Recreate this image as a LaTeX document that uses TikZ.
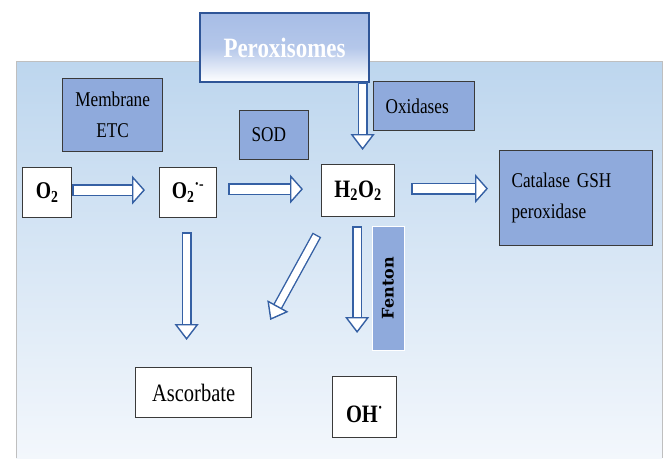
\documentclass[tikz,border=0pt]{standalone}
\usepackage{fontspec}
\setmainfont{Liberation Serif}[FakeStretch=0.82]
\newfontfamily\fentonfont{DejaVu Serif}
\usetikzlibrary{arrows.meta}
\definecolor{panelsky}{HTML}{BDD6EE}
\definecolor{panelmist}{HTML}{F3F7FC}
\definecolor{panelrim}{HTML}{BFBFBF}
\definecolor{peroxfill}{HTML}{A7BDE6}
\definecolor{peroxrim}{HTML}{2F5597}
\definecolor{enzymefill}{HTML}{8FAADC}
\definecolor{boxrim}{HTML}{3A3A3A}
\definecolor{arrowrim}{HTML}{3560A4}

\begin{document}
\begin{tikzpicture}[
  x=1pt,
  y=-1pt,
  species/.style={draw=boxrim, line width=1.2pt, fill=white, inner sep=0pt,
    anchor=north west},
  enzyme/.style={draw=boxrim, line width=1.2pt, fill=enzymefill, inner xsep=12pt,
    inner ysep=0pt, anchor=north west, align=left,
    font=\fontsize{21}{31}\selectfont},
  blockarrow/.style={draw=arrowrim, line width=1.4pt, double=white,
    double distance=9pt, line cap=rect,
    -{Triangle[length=13pt, width=29pt, fill=white, line width=1.4pt]}},
  droparrow/.style={blockarrow, double distance=7pt,
    -{Triangle[length=16pt, width=24pt, fill=white, line width=1.4pt]}}
]
  \useasboundingbox (0,0) rectangle (664,458);

  \shade[top color=panelsky, bottom color=panelmist] (16,61) rectangle (662,458);
  \draw[panelrim, line width=1pt] (16,458) |- (662,61) -- (662,458);

  \node[draw=peroxrim, line width=2pt, top color=peroxfill, bottom color=white,
    middle color=peroxfill!85!white, text=white, inner sep=0pt,
    minimum width=169pt, minimum height=69pt, anchor=north west,
    font=\fontsize{28}{34}\selectfont\bfseries]
    (perox) at (199,12) {Peroxisomes};

  \node[enzyme, align=center, text width=76pt, minimum height=73pt]
    (etc) at (62,78) {Membrane\\ETC};
  \node[enzyme, text width=45pt, minimum height=49pt]
    (sod) at (239,110) {SOD};
  \node[enzyme, text width=77pt, minimum height=49pt]
    (oxid) at (373,81) {Oxidases};
  \node[enzyme, text width=129pt, minimum height=95pt]
    (catal) at (499,150) {Catalase GSH\\peroxidase};

  \node[species, minimum width=49pt, minimum height=50pt,
    font=\fontsize{24}{28}\selectfont\bfseries]
    (o2) at (22,167) {O\textsubscript{2}};
  \node[species, minimum width=57pt, minimum height=50pt,
    font=\fontsize{24}{28}\selectfont\bfseries]
    (o2rad) at (159,167) {O\textsubscript{2}\textsuperscript{·-}};
  \node[species, minimum width=73pt, minimum height=52pt,
    font=\fontsize{25}{30}\selectfont\bfseries]
    (h2o2) at (321,164) {H\textsubscript{2}O\textsubscript{2}};
  \node[species, minimum width=116pt, minimum height=50pt,
    font=\fontsize{25}{30}\selectfont]
    (asc) at (135,367) {Ascorbate};
  \node[species, minimum width=64pt, minimum height=61pt, text height=31pt,
    font=\fontsize{25}{30}\selectfont\bfseries]
    (oh) at (332,376) {OH\textsuperscript{·}};

  \node[draw=white, line width=0.6pt, fill=enzymefill, rotate=90, inner sep=0pt,
    minimum width=124pt, minimum height=32pt,
    font=\fentonfont\fontsize{16}{20}\selectfont\bfseries]
    (fenton) at (388,288) {Fenton};

  \draw[blockarrow, shorten <=6pt, shorten >=14pt]
    ([yshift=2.5pt]o2.east) -- ([yshift=2.5pt]o2rad.west);
  \draw[blockarrow, shorten <=17pt, shorten >=18pt]
    ([yshift=3.5pt]o2rad.east) -- ([yshift=1.5pt]h2o2.west);
  \draw[blockarrow, shorten <=22pt, shorten >=11pt]
    ([yshift=2pt]h2o2.east) -- ([yshift=9.5pt]catal.west);
  \draw[droparrow, shorten <=4pt, shorten >=14pt]
    ([xshift=4.5pt]h2o2.north |- perox.south) -- ([xshift=4.5pt]h2o2.north);
  \draw[droparrow, shorten <=19pt, shorten >=27pt]
    ([xshift=-1.5pt]o2rad.south) -- ([xshift=-1.5pt]o2rad.south |- asc.north);
  \draw[droparrow, shorten <=14pt, shorten >=43pt]
    ([xshift=-1pt]h2o2.south) -- ([xshift=-1pt]h2o2.south |- oh.north);
  \draw[droparrow]
    ([xshift=-43.5pt, yshift=-22pt]h2o2.south) -- ([xshift=18pt, yshift=47pt]asc.north east);
\end{tikzpicture}
\end{document}
